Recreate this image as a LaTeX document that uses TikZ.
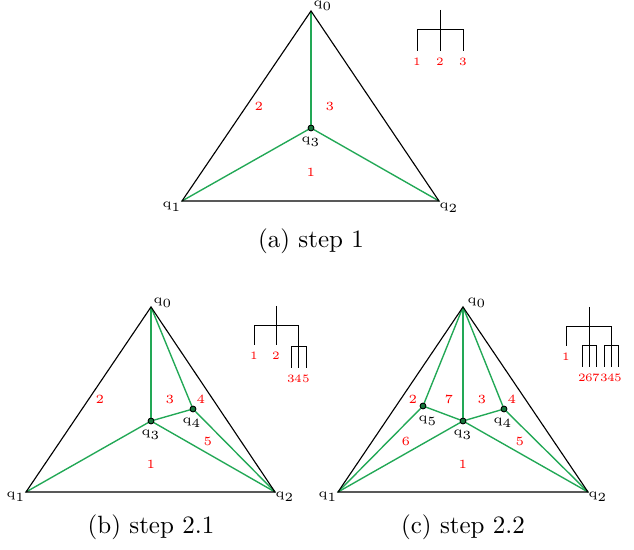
\documentclass[tikz,border=0pt]{standalone}
\usepackage{amsmath}
\usepackage{xcolor}
\usepackage{tikz}
\usetikzlibrary{positioning}

\definecolor{qgreen}{RGB}{34,168,86}

\begin{document}
\begin{tikzpicture}[
  x=0.4pt, y=-0.4pt,
  every node/.style={font=\tiny, inner sep=1pt},
  edge/.style={black, line width=0.45pt},
  split/.style={qgreen, line width=0.55pt},
  vertex/.style={circle, draw=black, fill=qgreen!70!black, line width=0.3pt, minimum size=2.3pt, inner sep=0pt},
  vlabel/.style={font=\tiny, text=black},
  region/.style={font=\tiny, text=red},
  branch/.style={black, line width=0.4pt},
  leaf/.style={font=\fontsize{4.5}{5}\selectfont, text=red, inner sep=0.5pt},
  caption/.style={font=\normalsize},
]
\useasboundingbox (0,0) rectangle (634,550);

% (a) step 1
\coordinate (a0) at (311,11);
\coordinate (a1) at (182,201);
\coordinate (a2) at (439,201);
\node[vertex] (a3) at (311,128) {};

\draw[split] (a0) -- (a3);
\draw[split] (a1) -- (a3);
\draw[split] (a2) -- (a3);
\draw[edge] (a0) -- (a1) -- (a2) -- cycle;
\node[vertex] at (a3) {};

\node[vlabel] (la0) at (323,6) {$\mathrm{q}_0$};
\node[vlabel] (la1) at (172,207) {$\mathrm{q}_1$};
\node[vlabel] (la2) at (449,208) {$\mathrm{q}_2$};
\node[vlabel] (la3) at (311,142) {$\mathrm{q}_3$};

\node[region] (ra1) at (311,172) {1};
\node[region] (ra2) at (259,106) {2};
\node[region] (ra3) at (330,106) {3};

% tree (a)
\coordinate (ta-top) at (440,10);
\coordinate (ta-j) at (440,30);
\coordinate (ta-e1) at (417,51);
\coordinate (ta-e2) at (440,51);
\coordinate (ta-e3) at (463,51);
\node[leaf, below=2pt of ta-e1] (ta1) {1};
\node[leaf, below=2pt of ta-e2] (ta2) {2};
\node[leaf, below=2pt of ta-e3] (ta3) {3};
\draw[branch] (ta-top) -- (ta-e2);
\draw[branch] (ta-e1) -- (ta-e1 |- ta-j) -- (ta-e3 |- ta-j) -- (ta-e3);

\node[caption] (capa) at (311,241) {(a) step 1};

% (b) step 2.1
\coordinate (b0) at (151,307);
\coordinate (b1) at (26,492);
\coordinate (b2) at (275,492);
\node[vertex] (b3) at (151,421) {};
\node[vertex] (b4) at (193,409) {};

\draw[split] (b0) -- (b3);
\draw[split] (b1) -- (b3);
\draw[split] (b2) -- (b3);
\draw[split] (b0) -- (b4);
\draw[split] (b3) -- (b4);
\draw[split] (b2) -- (b4);
\draw[edge] (b0) -- (b1) -- (b2) -- cycle;
\node[vertex] at (b3) {};
\node[vertex] at (b4) {};

\node[vlabel] (lb0) at (163,303) {$\mathrm{q}_0$};
\node[vlabel] (lb1) at (16,497) {$\mathrm{q}_1$};
\node[vlabel] (lb2) at (285,497) {$\mathrm{q}_2$};
\node[vlabel] (lb3) at (151,435) {$\mathrm{q}_3$};
\node[vlabel] (lb4) at (192,423) {$\mathrm{q}_4$};

\node[region] (rb1) at (151,464) {1};
\node[region] (rb2) at (100,399) {2};
\node[region] (rb3) at (170,399) {3};
\node[region] (rb4) at (201,399) {4};
\node[region] (rb5) at (208,441) {5};

% tree (b)
\coordinate (tb-top) at (276,306);
\coordinate (tb-j) at (276,326);
\coordinate (tb-e1) at (254,345);
\coordinate (tb-e2) at (276,345);
\coordinate (tb-k) at (298,347);
\coordinate (tb-e3) at (291,368);
\coordinate (tb-e4) at (298,368);
\coordinate (tb-e5) at (306,368);
\node[leaf, below=2pt of tb-e1] (tb1) {1};
\node[leaf, below=2pt of tb-e2] (tb2) {2};
\node[leaf, below=2pt of tb-e3] (tb3) {3};
\node[leaf, below=2pt of tb-e4] (tb4) {4};
\node[leaf, below=2pt of tb-e5] (tb5) {5};
\draw[branch] (tb-top) -- (tb-e2);
\draw[branch] (tb-e1) -- (tb-e1 |- tb-j) -- (tb-k |- tb-j) -- (tb-e4);
\draw[branch] (tb-e3) -- (tb-e3 |- tb-k) -- (tb-e5 |- tb-k) -- (tb-e5);

\node[caption] (capb) at (151,527) {(b) step 2.1};

% (c) step 2.2
\coordinate (c0) at (463,307);
\coordinate (c1) at (338,492);
\coordinate (c2) at (588,492);
\node[vertex] (c3) at (463,421) {};
\node[vertex] (c4) at (504,409) {};
\node[vertex] (c5) at (423,406) {};

\draw[split] (c0) -- (c3);
\draw[split] (c1) -- (c3);
\draw[split] (c2) -- (c3);
\draw[split] (c0) -- (c4);
\draw[split] (c3) -- (c4);
\draw[split] (c2) -- (c4);
\draw[split] (c0) -- (c5);
\draw[split] (c3) -- (c5);
\draw[split] (c1) -- (c5);
\draw[edge] (c0) -- (c1) -- (c2) -- cycle;
\node[vertex] at (c3) {};
\node[vertex] at (c4) {};
\node[vertex] at (c5) {};

\node[vlabel] (lc0) at (477,303) {$\mathrm{q}_0$};
\node[vlabel] (lc1) at (328,497) {$\mathrm{q}_1$};
\node[vlabel] (lc2) at (598,497) {$\mathrm{q}_2$};
\node[vlabel] (lc3) at (463,435) {$\mathrm{q}_3$};
\node[vlabel] (lc4) at (503,423) {$\mathrm{q}_4$};
\node[vlabel] (lc5) at (428,421) {$\mathrm{q}_5$};

\node[region] (rc1) at (463,464) {1};
\node[region] (rc2) at (413,399) {2};
\node[region] (rc3) at (482,399) {3};
\node[region] (rc4) at (512,399) {4};
\node[region] (rc5) at (520,441) {5};
\node[region] (rc6) at (406,441) {6};
\node[region] (rc7) at (449,399) {7};

% tree (c)
\coordinate (tc-top) at (589,307);
\coordinate (tc-j) at (589,327);
\coordinate (tc-e1) at (566,346);
\coordinate (tc-k) at (589,346);
\coordinate (tc-m) at (611,346);
\coordinate (tc-e2) at (582,367);
\coordinate (tc-e6) at (589,367);
\coordinate (tc-e7) at (596,367);
\coordinate (tc-e3) at (604,367);
\coordinate (tc-e4) at (611,367);
\coordinate (tc-e5) at (618,367);
\node[leaf, below=2pt of tc-e1] (tc1) {1};
\node[leaf, below=2pt of tc-e2] (tc2) {2};
\node[leaf, below=2pt of tc-e6] (tc6) {6};
\node[leaf, below=2pt of tc-e7] (tc7) {7};
\node[leaf, below=2pt of tc-e3] (tc3) {3};
\node[leaf, below=2pt of tc-e4] (tc4) {4};
\node[leaf, below=2pt of tc-e5] (tc5) {5};
\draw[branch] (tc-top) -- (tc-e6);
\draw[branch] (tc-e1) -- (tc-e1 |- tc-j) -- (tc-m |- tc-j) -- (tc-e4);
\draw[branch] (tc-e2) -- (tc-e2 |- tc-k) -- (tc-e7 |- tc-k) -- (tc-e7);
\draw[branch] (tc-e3) -- (tc-e3 |- tc-m) -- (tc-e5 |- tc-m) -- (tc-e5);

\node[caption] (capc) at (463,527) {(c) step 2.2};

\end{tikzpicture}
\end{document}
